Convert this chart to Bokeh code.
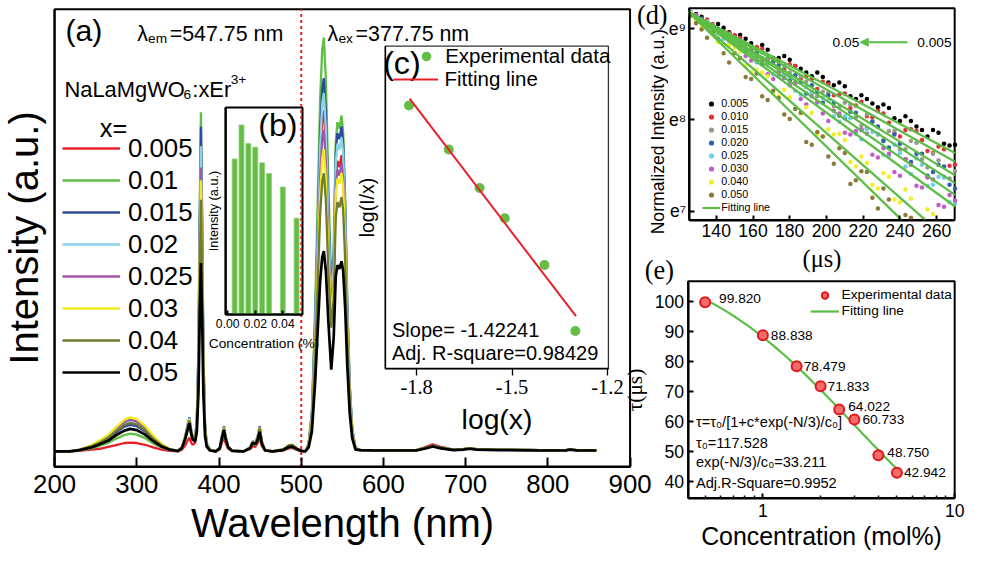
import numpy as np
from bokeh.plotting import figure
from bokeh.models import (Range1d, LinearAxis, LogAxis, LogScale, LinearScale, FixedTicker,
                          Label, Legend, LegendItem, Arrow, NormalHead, PrintfTickFormatter,
                          BasicTickFormatter)
from bokeh.embed import file_html
from bokeh.resources import INLINE
from bokeh.core.properties import value

# ------------------------------------------------------------------ data
# (a) excitation (200-500 nm, em 547.75 nm) + emission (500-900 nm, ex 377.75 nm)
lambda_em = 547.75
lambda_ex = 377.75
split_wl = 500
wavelength = [200, 218, 230, 245, 255, 265, 275, 285, 292, 300, 310, 320, 330, 340, 350,
              355, 359, 362, 364, 366, 368, 371, 373, 375, 376.5, 378, 379.5, 381, 383, 385, 389, 396,
              401, 404, 406, 408, 411, 416,
              430, 438, 441, 444, 447, 449.5, 452, 456,
              465, 478, 485, 489, 494, 500,
              505, 509, 513, 517, 520, 523, 525.5, 527.5, 530, 533, 536.5, 539.5, 542, 544, 546.5,
              549, 551, 553.5, 556, 559, 562, 566, 572,
              590, 640, 650, 660, 670, 685, 697, 705, 713, 740, 790, 822, 827, 835, 859]

series_x = ["0.005", "0.01", "0.015", "0.02", "0.025", "0.03", "0.04", "0.05"]
spec_0005 = [0, 0, .001, .004, .006, .010, .014, .019, .020, .019, .015, .009, .004, .001, .000,
             .004, .014, .025, .031, .020, .015, .020, .058, .203, .470, .668, .468, .200, .053, .017, .003, 0,
             .005, .022, .031, .019, .006, .001,
             0, .005, .012, .010, .018, .030, .012, .002,
             0, .002, .007, .008, .004, .000,
             0, .015, .077, .270, .463, .655, .748, .771, .694, .501, .330, .402, .616, .657, .643, .670,
             .637, .503, .302, .134, .047, .007, .003,
             .003, .003, .009, .016, .010, .004, .005, .007, .005, .004, .003, .003, .005, .003, .003]
spec_001 = [0, 0, .002, .007, .013, .019, .029, .037, .040, .038, .030, .018, .009, .003, .000,
            .007, .027, .048, .060, .039, .027, .028, .070, .236, .540, .767, .537, .230, .061, .019, .004, 0,
            .007, .031, .045, .027, .009, .001,
            0, .007, .018, .014, .024, .040, .016, .002,
            0, .003, .009, .010, .005, .001,
            0, .019, .094, .328, .562, .796, .908, .936, .842, .608, .370, .456, .699, .745, .730, .760,
            .722, .570, .342, .152, .053, .008, .003,
            .003, .003, .007, .012, .008, .004, .005, .007, .005, .004, .003, .003, .005, .003, .003]
spec_0015 = [0, 0, .003, .011, .019, .029, .043, .056, .060, .057, .045, .027, .013, .004, .001,
             .009, .035, .062, .077, .050, .033, .032, .071, .228, .518, .734, .514, .220, .059, .018, .004, 0,
             .009, .040, .057, .034, .011, .002,
             0, .009, .023, .019, .034, .057, .023, .003,
             0, .004, .013, .014, .007, .001,
             0, .017, .084, .295, .506, .717, .819, .844, .760, .549, .350, .441, .676, .720, .706, .735,
             .698, .551, .331, .147, .051, .007, .003,
             .003, .003, .008, .013, .008, .004, .005, .007, .005, .004, .003, .003, .005, .003, .003]
spec_002 = [0, 0, .003, .012, .022, .033, .049, .063, .068, .065, .051, .031, .015, .005, .001,
            .009, .034, .060, .075, .049, .031, .031, .066, .215, .487, .690, .483, .207, .055, .017, .003, 0,
            .008, .039, .055, .033, .011, .002,
            0, .009, .022, .018, .033, .055, .022, .003,
            0, .004, .013, .014, .007, .001,
            0, .016, .081, .284, .486, .689, .786, .810, .729, .527, .340, .426, .653, .696, .682, .710,
            .675, .533, .320, .142, .050, .007, .003,
            .003, .003, .007, .012, .008, .004, .005, .007, .005, .004, .003, .003, .005, .003, .003]
spec_0025 = [0, 0, .004, .013, .023, .035, .052, .067, .072, .068, .054, .032, .016, .005, .001,
             .009, .032, .058, .072, .047, .030, .029, .062, .200, .453, .642, .449, .193, .051, .016, .003, 0,
             .008, .038, .054, .032, .011, .002,
             0, .009, .022, .018, .032, .054, .022, .003,
             0, .004, .013, .014, .007, .001,
             0, .015, .073, .254, .436, .618, .705, .727, .654, .473, .320, .390, .598, .637, .624, .650,
             .618, .488, .293, .130, .046, .007, .003,
             .003, .003, .007, .012, .008, .004, .005, .007, .005, .004, .003, .003, .005, .003, .003]
spec_003 = [0, 0, .004, .014, .025, .037, .055, .072, .077, .073, .058, .035, .017, .005, .001,
            .009, .032, .058, .072, .047, .030, .028, .060, .191, .433, .613, .429, .184, .049, .015, .003, 0,
            .008, .038, .054, .032, .011, .002,
            0, .009, .022, .018, .032, .053, .021, .003,
            0, .005, .014, .015, .008, .001,
            0, .014, .068, .239, .410, .581, .663, .684, .616, .445, .300, .378, .580, .617, .605, .630,
            .599, .473, .284, .126, .044, .006, .003,
            .003, .003, .007, .012, .008, .004, .005, .007, .005, .004, .003, .003, .005, .003, .003]
spec_004 = [0, 0, .003, .012, .020, .031, .046, .060, .064, .061, .048, .029, .014, .004, .001,
            .008, .032, .056, .070, .046, .030, .026, .057, .178, .402, .569, .398, .171, .046, .014, .003, 0,
            .008, .036, .052, .031, .010, .002,
            0, .008, .021, .017, .031, .052, .021, .003,
            0, .005, .014, .015, .008, .001,
            0, .013, .063, .220, .377, .535, .610, .629, .566, .409, .280, .345, .529, .564, .552, .575,
            .546, .431, .259, .115, .040, .006, .003,
            .003, .003, .008, .013, .009, .004, .005, .007, .005, .004, .003, .003, .005, .003, .003]
spec_005 = [0, 0, .003, .009, .016, .024, .037, .047, .051, .048, .038, .023, .011, .004, .001,
            .008, .029, .051, .064, .042, .026, .023, .044, .134, .301, .426, .298, .128, .034, .011, .002, 0,
            .007, .034, .048, .029, .010, .001,
            0, .008, .020, .016, .026, .044, .018, .002,
            0, .003, .010, .011, .006, .001,
            0, .009, .045, .159, .272, .385, .439, .453, .408, .294, .185, .258, .396, .421, .413, .430,
            .409, .323, .194, .086, .030, .004, .003,
            .002, .002, .006, .011, .007, .003, .004, .006, .004, .003, .002, .002, .004, .002, .002]
spectra = [spec_0005, spec_001, spec_0015, spec_002, spec_0025, spec_003, spec_004, spec_005]

# (b) integrated intensity vs concentration
conc_b = [0.005, 0.01, 0.015, 0.02, 0.025, 0.03, 0.04, 0.05]
intensity_b = [75.1, 91.5, 82.6, 80.8, 73.2, 68.1, 61.5, 46.5]
conc_ticks_b = [0.00, 0.02, 0.04]

# (c) log(I/x) vs log(x)
conc_c = [0.015, 0.02, 0.025, 0.03, 0.04, 0.05]
log_Ix_c = [4.000, 3.850, 3.718, 3.615, 3.455, 3.229]
slope_c = -1.42241
intercept_c = 1.432
adj_r2_c = 0.98429
logx_ticks_c = [-1.8, -1.5, -1.2]

# (d) decay curves, ln(normalized intensity) vs time (us); two interleaved time grids
t_us = [126, 132, 138, 144, 150, 156, 162, 168, 174, 180, 186, 192, 198, 204, 210, 216, 222,
        228, 234, 240, 246, 252, 258, 264, 270]
t_us_b = [129, 135, 141, 147, 153, 159, 165, 171, 177, 183, 189, 195, 201, 207, 213, 219, 225,
          231, 237, 243, 249, 255, 261, 267]
decay_labels = ["0.005", "0.010", "0.015", "0.020", "0.025", "0.030", "0.040", "0.050"]
dec_0005 = [9.18, 9.13, 9.03, 9.01, 8.92, 8.89, 8.79, 8.77, 8.68, 8.66, 8.56, 8.48, 8.47, 8.38, 8.37,
            8.23, 8.23, 8.14, 8.13, 7.99, 7.99, 7.89, 7.89, 7.74, 7.73]
dec_0005_b = [9.16, 9.07, 9.05, 8.96, 8.93, 8.84, 8.82, 8.68, 8.70, 8.59, 8.52, 8.52, 8.41, 8.41,
              8.26, 8.27, 8.18, 8.17, 8.02, 8.04, 7.93, 7.82, 7.86, 7.72]
dec_0010 = [9.17, 9.09, 9.05, 8.95, 8.93, 8.82, 8.80, 8.67, 8.65, 8.61, 8.45, 8.45, 8.42, 8.27, 8.29,
            8.16, 8.04, 8.10, 7.97, 7.82, 7.90, 7.78, 7.64, 7.68, 7.51]
dec_0010_b = [9.15, 9.10, 8.98, 8.95, 8.90, 8.77, 8.78, 8.67, 8.55, 8.59, 8.48, 8.34, 8.39, 8.28,
              8.13, 8.20, 8.03, 8.07, 7.85, 7.89, 7.88, 7.66, 7.71, 7.50]
dec_0015 = [9.18, 9.07, 9.04, 8.95, 8.84, 8.83, 8.70, 8.69, 8.54, 8.52, 8.48, 8.31, 8.31, 8.15, 8.19,
            8.03, 8.06, 7.84, 7.88, 7.68, 7.77, 7.57, 7.63, 7.38, 7.44]
dec_0015_b = [9.12, 9.08, 8.95, 8.94, 8.82, 8.80, 8.65, 8.63, 8.59, 8.42, 8.42, 8.26, 8.30, 8.14,
              8.17, 7.94, 7.99, 7.78, 7.88, 7.68, 7.75, 7.48, 7.56, 7.36]
dec_0020 = [9.16, 9.11, 8.99, 8.97, 8.87, 8.75, 8.74, 8.62, 8.60, 8.43, 8.41, 8.38, 8.19, 8.19, 8.02,
            8.08, 7.91, 7.93, 7.70, 7.74, 7.54, 7.63, 7.43, 7.49, 7.25]
dec_0020_b = [9.15, 9.03, 9.00, 8.87, 8.86, 8.75, 8.61, 8.64, 8.49, 8.49, 8.29, 8.31, 8.27, 8.05,
              8.09, 7.89, 7.98, 7.77, 7.84, 7.57, 7.63, 7.39, 7.51, 7.29]
dec_0025 = [9.19, 9.07, 9.03, 8.89, 8.86, 8.79, 8.63, 8.62, 8.48, 8.47, 8.28, 8.30, 8.24, 8.04, 8.04,
            7.85, 7.90, 7.85, 7.61, 7.64, 7.41, 7.51, 7.29, 7.37, 7.09]
dec_0025_b = [9.11, 9.07, 8.95, 8.92, 8.75, 8.73, 8.68, 8.50, 8.49, 8.32, 8.36, 8.19, 8.21, 7.98,
              8.02, 7.79, 7.87, 7.62, 7.73, 7.49, 7.58, 7.28, 7.38, 7.10]
dec_0030 = [9.15, 9.10, 8.96, 8.91, 8.85, 8.70, 8.66, 8.50, 8.51, 8.38, 8.23, 8.26, 8.07, 8.10, 7.86,
            7.88, 7.85, 7.59, 7.63, 7.39, 7.51, 7.26, 7.35, 7.05, 7.12]
dec_0030_b = [9.15, 9.01, 8.97, 8.82, 8.82, 8.65, 8.65, 8.45, 8.46, 8.40, 8.17, 8.20, 7.99, 8.07,
              7.84, 7.90, 7.62, 7.69, 7.43, 7.57, 7.28, 7.37, 7.07, 7.18]
dec_0040 = [9.17, 9.03, 8.98, 8.83, 8.79, 8.59, 8.55, 8.48, 8.26, 8.25, 8.07, 8.08, 7.82, 7.84, 7.78,
            7.49, 7.53, 7.25, 7.38, 7.10, 7.14, 6.82, 6.97, 6.65, 6.73]
dec_0040_b = [9.08, 9.04, 8.85, 8.82, 8.75, 8.52, 8.52, 8.29, 8.33, 8.12, 8.14, 7.85, 7.90, 7.85,
              7.54, 7.60, 7.29, 7.42, 7.13, 7.24, 6.89, 7.02, 6.87, 6.56]
dec_0050 = [9.14, 8.99, 8.96, 8.73, 8.73, 8.47, 8.51, 8.22, 8.24, 8.01, 8.08, 7.73, 7.82, 7.52, 7.64,
            7.34, 7.43, 7.03, 7.13, 6.77, 6.93, 6.59, 6.75, 6.33, 6.48]
dec_0050_b = [9.06, 8.90, 8.89, 8.63, 8.68, 8.45, 8.26, 8.32, 8.06, 8.12, 7.76, 7.87, 7.60, 7.69,
              7.30, 7.44, 7.15, 7.25, 6.86, 6.96, 6.61, 6.79, 6.43, 6.50]
decays = [dec_0005, dec_0010, dec_0015, dec_0020, dec_0025, dec_0030, dec_0040, dec_0050]
decays_b = [dec_0005_b, dec_0010_b, dec_0015_b, dec_0020_b, dec_0025_b, dec_0030_b, dec_0040_b,
            dec_0050_b]
fit_t_start = [125, 125, 125, 125, 125, 125, 125, 125]
fit_ln_start = [9.18, 9.18, 9.18, 9.18, 9.18, 9.18, 9.18, 9.18]
fit_t_end = [270, 270, 270, 270, 270, 270, 254, 241]
fit_ln_end = [7.638, 7.543, 7.394, 7.309, 7.181, 7.053, 6.904, 6.904]
t_ticks_d = [140, 160, 180, 200, 220, 240, 260]
ln_ticks_d = [7, 8, 9]

# (e) lifetime vs concentration
conc_mol = [0.5, 1, 1.5, 2, 2.5, 3, 4, 5]
tau_us = [99.820, 88.838, 78.479, 71.833, 64.022, 60.733, 48.750, 42.942]
tau0 = 117.528
k_fit = 33.211
adj_r2_e = 0.9952
tau_ticks_e = [40, 50, 60, 70, 80, 90, 100]
conc_ticks_e = [1, 10]

# ------------------------------------------------------------------ layout helpers
SANS = "Liberation Sans"
SERIF = "Liberation Serif"
W, H = 965, 551
SX, SY = W / 981.0, H / 567.0


def fx(rx):
    return rx * SX


def fy(ry):
    return H - ry * SY


def fs(px):
    return f"{px * 0.975:.1f}px"


def span(d0, d1, p0, p1, total):
    s = (d1 - d0) / (p1 - p0)
    return d0 - p0 * s, d0 + (total - p0) * s


# name: (left px, right px, top px, bottom px, x0, x1, y0, y1, xlog)
panels = {
    "a": (55, 640, 9, 480, 200, 900, -16 / 455, 1.0, False),
    "b": (229, 307, 110, 323, -0.00143, 0.05429, 0, 100, False),
    "c": (391, 618, 47, 379, -1.899, -1.197, 3.100, 4.203, False),
    "d": (700, 970, 8, 226, 125.2, 269.8, 6.904, 9.223, False),
    "e": (699, 970, 289, 512, 0.4076, 10.0, 34.49, 106.81, True),
}

p = figure(width=W, height=H, x_range=Range1d(0, W), y_range=Range1d(0, H),
           x_axis_location=None, y_axis_location=None, toolbar_location=None,
           output_backend="svg", min_border=0, outline_line_color=None)
p.grid.visible = False

xr, yr, xs = {}, {}, {}
for name, (rx0, rx1, rt, rb, x0, x1, y0, y1, xlog) in panels.items():
    if xlog:
        a0, a1 = span(np.log10(x0), np.log10(x1), fx(rx0), fx(rx1), W)
        xr[name] = Range1d(10 ** a0, 10 ** a1)
        xs[name] = LogScale()
    else:
        a0, a1 = span(x0, x1, fx(rx0), fx(rx1), W)
        xr[name] = Range1d(a0, a1)
        xs[name] = LinearScale()
    b0, b1 = span(y0, y1, fy(rb), fy(rt), H)
    yr[name] = Range1d(b0, b1)
p.extra_x_ranges = xr
p.extra_y_ranges = yr
p.extra_x_scales = xs


def box(name, lw, color="black"):
    _, _, _, _, x0, x1, y0, y1, _ = panels[name]
    p.quad(left=[x0], right=[x1], bottom=[y0], top=[y1], fill_color="white",
           line_color=color, line_width=lw, x_range_name=name, y_range_name=name)


def add_axis(side, name, loc, bounds, ticks=(), cls=LinearAxis, tick_font=SANS, tick_size=0,
             label=None, label_font=SANS, label_size=0, tick_in=0, tick_out=0, lw=2,
             label_standoff=5, tick_standoff=5, overrides=None, formatter=None, minor=None):
    ax = cls(x_range_name=name, y_range_name=name, fixed_location=loc, bounds=bounds,
             ticker=FixedTicker(ticks=list(ticks), minor_ticks=list(minor or [])))
    ax.major_tick_in = tick_in
    ax.major_tick_out = tick_out
    ax.major_tick_line_width = lw
    ax.axis_line_width = lw
    ax.axis_line_color = "black"
    ax.major_tick_line_color = "black"
    if minor:
        ax.minor_tick_in = 3
        ax.minor_tick_out = 0
        ax.minor_tick_line_width = 1.5
        ax.minor_tick_line_color = "black"
    else:
        ax.minor_tick_line_color = None
    ax.major_label_text_font = tick_font
    ax.major_label_text_color = "black"
    ax.major_label_text_font_size = fs(tick_size) if tick_size else "0px"
    ax.major_label_standoff = tick_standoff
    if formatter is not None:
        ax.formatter = formatter
    if overrides:
        ax.major_label_overrides = overrides
    if label:
        ax.axis_label = label
        ax.axis_label_text_font = label_font
        ax.axis_label_text_color = "black"
        ax.axis_label_text_font_size = fs(label_size)
        ax.axis_label_text_font_style = "normal"
        ax.axis_label_standoff = label_standoff
    p.add_layout(ax, side)
    return ax


def label(text, rx, ry, size, font=SANS, align="left", baseline="middle", color="black", angle=0):
    p.add_layout(Label(x=fx(rx), y=fy(ry), x_units="screen", y_units="screen", text=text,
                       text_font=font, text_font_size=fs(size), text_align=align,
                       text_baseline=baseline, text_color=color, angle=angle))


def legend(items, rx, ry_bottom, glyph_w, row_h, size, standoff):
    p.add_layout(Legend(items=items, location=(fx(rx), fy(ry_bottom)), padding=0, margin=0,
                        spacing=0, glyph_width=glyph_w, glyph_height=row_h, label_height=row_h,
                        label_standoff=standoff, label_text_font=SANS, label_text_color="black",
                        label_text_font_size=fs(size), border_line_color=None,
                        background_fill_alpha=0), "center")


# ------------------------------------------------------------------ (a)
spec_colors = ["#E8202A", "#5FBF45", "#2E4A9E", "#8AD3E8", "#A355A8", "#F2EA1C", "#6F7C2E", "#000000"]
box("a", 2)
spec_renderers = []
for vals, col in zip(spectra, spec_colors):
    r = p.line(wavelength, vals, line_color=col, line_width=2.7 if col == "#000000" else 2.3,
               x_range_name="a", y_range_name="a")
    spec_renderers.append(r)
pa = panels["a"]
add_axis("below", "a", pa[6], (pa[4], pa[5]), ticks=range(200, 901, 100), tick_size=26.5,
         tick_in=9, tick_standoff=8, label="Wavelength (nm)", label_size=41, label_standoff=5)
add_axis("left", "a", pa[4], (pa[6], pa[7]), label="Intensity (a.u.)", label_size=41,
         label_standoff=9)
legend([LegendItem(label=s, renderers=[r]) for s, r in zip(series_x, spec_renderers)],
       63, 399.5, int(round(59 * SX)), 32, 26.5, 8)

# ------------------------------------------------------------------ (b)
GREEN = "#66BD45"
box("b", 2)
p.vbar(x=conc_b, top=intensity_b, width=0.0036, bottom=0, fill_color=GREEN, line_color="#8FD07A",
       line_width=0.8, x_range_name="b", y_range_name="b")
pb = panels["b"]
add_axis("below", "b", pb[6], (pb[4], pb[5]), ticks=conc_ticks_b, tick_size=12.5, tick_in=4,
         tick_standoff=5, formatter=PrintfTickFormatter(format="%.2f"),
         label="Concentration (%)", label_size=14, label_standoff=4)
add_axis("left", "b", pb[4], (pb[6], pb[7]), label="Intensity (a.u.)", label_size=13,
         label_standoff=5)

# ------------------------------------------------------------------ (c)
box("c", 1.3, "#333333")
logx_c = list(np.log10(conc_c))
rc_pts = p.scatter(logx_c, log_Ix_c, size=10, marker="circle", fill_color=GREEN, line_color=None,
                   x_range_name="c", y_range_name="c")
x_fit_c = [min(logx_c) + 0.002, max(logx_c) + 0.002]
y_fit_c = [intercept_c + slope_c * v for v in x_fit_c]
rc_fit = p.line(x_fit_c, y_fit_c, line_color="#E8202A", line_width=2,
                x_range_name="c", y_range_name="c")
pc = panels["c"]
add_axis("below", "c", pc[6], (pc[4], pc[5]), ticks=logx_ticks_c, tick_font=SERIF, tick_size=21,
         tick_out=7, lw=1.3, tick_standoff=4, formatter=PrintfTickFormatter(format="%.1f"),
         label="log(x)", label_size=29, label_standoff=6)
add_axis("left", "c", pc[4], (pc[6], pc[7]), lw=1.3, label="log(I/x)", label_size=20,
         label_standoff=8)
legend([LegendItem(label="Experimental data", renderers=[rc_pts])], 420, 70, 26, 24, 21, 6)
legend([LegendItem(label="Fitting line", renderers=[rc_fit])], 400, 94, 45, 24, 21, 6)
label(f"Slope= {slope_c}", 398, 339, 20.5)
label(f"Adj. R-square={adj_r2_c}", 398, 363, 20.5)

# red dashed separator between excitation and emission parts
p.line([split_wl, split_wl], [pa[6], pa[7]], line_color="#E3262B", line_width=2, line_dash="3 3",
       x_range_name="a", y_range_name="a")

# (a) texts
label("(a)", 66, 31, 31)
label("\u03bb", 139, 34.5, 22, baseline="alphabetic")
label("em", 150, 39.5, 14, baseline="alphabetic")
label(f"={lambda_em} nm", 172, 34.5, 22, baseline="alphabetic")
label("\u03bb", 332.5, 34.5, 22, baseline="alphabetic")
label("ex", 343.5, 39.5, 14, baseline="alphabetic")
label(f"={lambda_ex} nm", 361, 34.5, 22, baseline="alphabetic")
label("NaLaMgWO", 65, 92, 22.5, baseline="alphabetic")
label("6", 186, 97, 14, baseline="alphabetic")
label(":xEr", 195, 92, 22.5, baseline="alphabetic")
label("3+", 234, 81, 14, baseline="alphabetic")
label("x=", 101, 131, 26, baseline="alphabetic")
label("(b)", 262, 128, 33)
label("(c)", 389, 64, 33)

# ------------------------------------------------------------------ (d)
dec_colors = ["#000000", "#E8303A", "#9A9A8C", "#2F5DB8", "#6ECFF0", "#C35CC9", "#F2EE2A", "#8A7B3A"]
FIT_GREEN = "#5CBD45"
box("d", 2)
pd_ = panels["d"]
dec_renderers = []
t_all = np.array(t_us + t_us_b, dtype=float)
for vals, vals_b, col in zip(decays, decays_b, dec_colors):
    v = np.array(vals + vals_b)
    keep = (v >= pd_[6]) & (v <= pd_[7])
    r = p.scatter(t_all[keep], v[keep], size=4.5, marker="circle", fill_color=col, line_color=None,
                  x_range_name="d", y_range_name="d")
    dec_renderers.append(r)
fit_renderers = []
for ts, ys, te, ye in zip(fit_t_start, fit_ln_start, fit_t_end, fit_ln_end):
    r = p.line([ts, te], [ys, ye], line_color=FIT_GREEN, line_width=2.2,
               x_range_name="d", y_range_name="d")
    fit_renderers.append(r)
add_axis("below", "d", pd_[6], (pd_[4], pd_[5]), ticks=t_ticks_d, tick_size=18, tick_in=5,
         tick_standoff=4, label="(\u03bcs)", label_font=SERIF, label_size=25, label_standoff=4)
add_axis("left", "d", pd_[4], (pd_[6], pd_[7]), ticks=ln_ticks_d, tick_size=18, tick_in=5,
         tick_standoff=3, overrides={7: "e\u2077", 8: "e\u2078", 9: "e\u2079"})
label("Normalized Intensity (a.u.)", 668, 135, 18, align="center", angle=np.pi / 2)
d_items = [LegendItem(label=s, renderers=[r]) for s, r in zip(decay_labels, dec_renderers)]
d_items.append(LegendItem(label="Fitting line", renderers=[fit_renderers[0]]))
legend(d_items, 714, 220, 18, 13, 11, 1)
p.add_layout(Arrow(x_start=fx(922), y_start=fy(43), x_end=fx(874), y_end=fy(43),
                   start_units="screen", end_units="screen", line_color=FIT_GREEN, line_width=2,
                   end=NormalHead(size=8, fill_color=FIT_GREEN, line_color=FIT_GREEN)))
label(decay_labels[-1].rstrip("0"), 873, 43, 14, align="right")
label(decay_labels[0], 932, 43, 14)
label("(d)", 647, 15, 27, font=SERIF)

# ------------------------------------------------------------------ (e)
box("e", 2)
pe = panels["e"]
c_fit = np.linspace(min(conc_mol), max(conc_mol), 80)
tau_fit = tau0 / (1 + c_fit / 100.0 * k_fit)
re_fit = p.line(c_fit, tau_fit, line_color=FIT_GREEN, line_width=2.2, x_range_name="e",
                y_range_name="e")
re_pts = p.scatter(conc_mol, tau_us, size=10, marker="circle", fill_color="#F46B6B",
                   line_color="#E3161B", line_width=2, x_range_name="e", y_range_name="e")
label_dx = [14, 8, 7, 7, 9, 8, 9, 7]
label_dy = [-4, 0, 0, 0, -3, 0, -3, 0]
p.text(conc_mol, tau_us, text=[f"{v:.3f}" for v in tau_us], x_offset=label_dx, y_offset=label_dy,
       text_font=value(SANS), text_font_size=value(fs(14)), text_baseline="middle",
       text_align="left", text_color="black", x_range_name="e", y_range_name="e")
add_axis("below", "e", pe[6], (pe[4], pe[5]), ticks=conc_ticks_e, cls=LogAxis, tick_size=18,
         tick_in=5, tick_standoff=6, formatter=BasicTickFormatter(),
         minor=[0.5, 0.6, 0.7, 0.8, 0.9, 2, 3, 4, 5, 6, 7, 8, 9],
         label="Concentration (mol%)", label_size=25.5, label_standoff=1)
add_axis("left", "e", pe[4], (pe[6], pe[7]), ticks=tau_ticks_e, tick_size=18, tick_in=5,
         tick_standoff=4, label="\u03c4(\u03bcs)", label_font=SERIF, label_size=22,
         label_standoff=5)
legend([LegendItem(label="Experimental data", renderers=[re_pts]),
        LegendItem(label="Fitting line", renderers=[re_fit])], 823, 328, 29, 16, 14, 3)
label("\u03c4=\u03c4\u2080/[1+c*exp(-N/3)/c\u2080]", 707, 434, 15)
label(f"\u03c4\u2080={tau0}", 707, 455, 15)
label(f"exp(-N/3)/c\u2080={k_fit}", 707, 475, 15)
label(f"Adj.R-Square={adj_r2_e}", 707, 496, 15)
label("(e)", 655, 278, 27, font=SERIF)

open("out.html", "w").write(file_html(p, INLINE))
